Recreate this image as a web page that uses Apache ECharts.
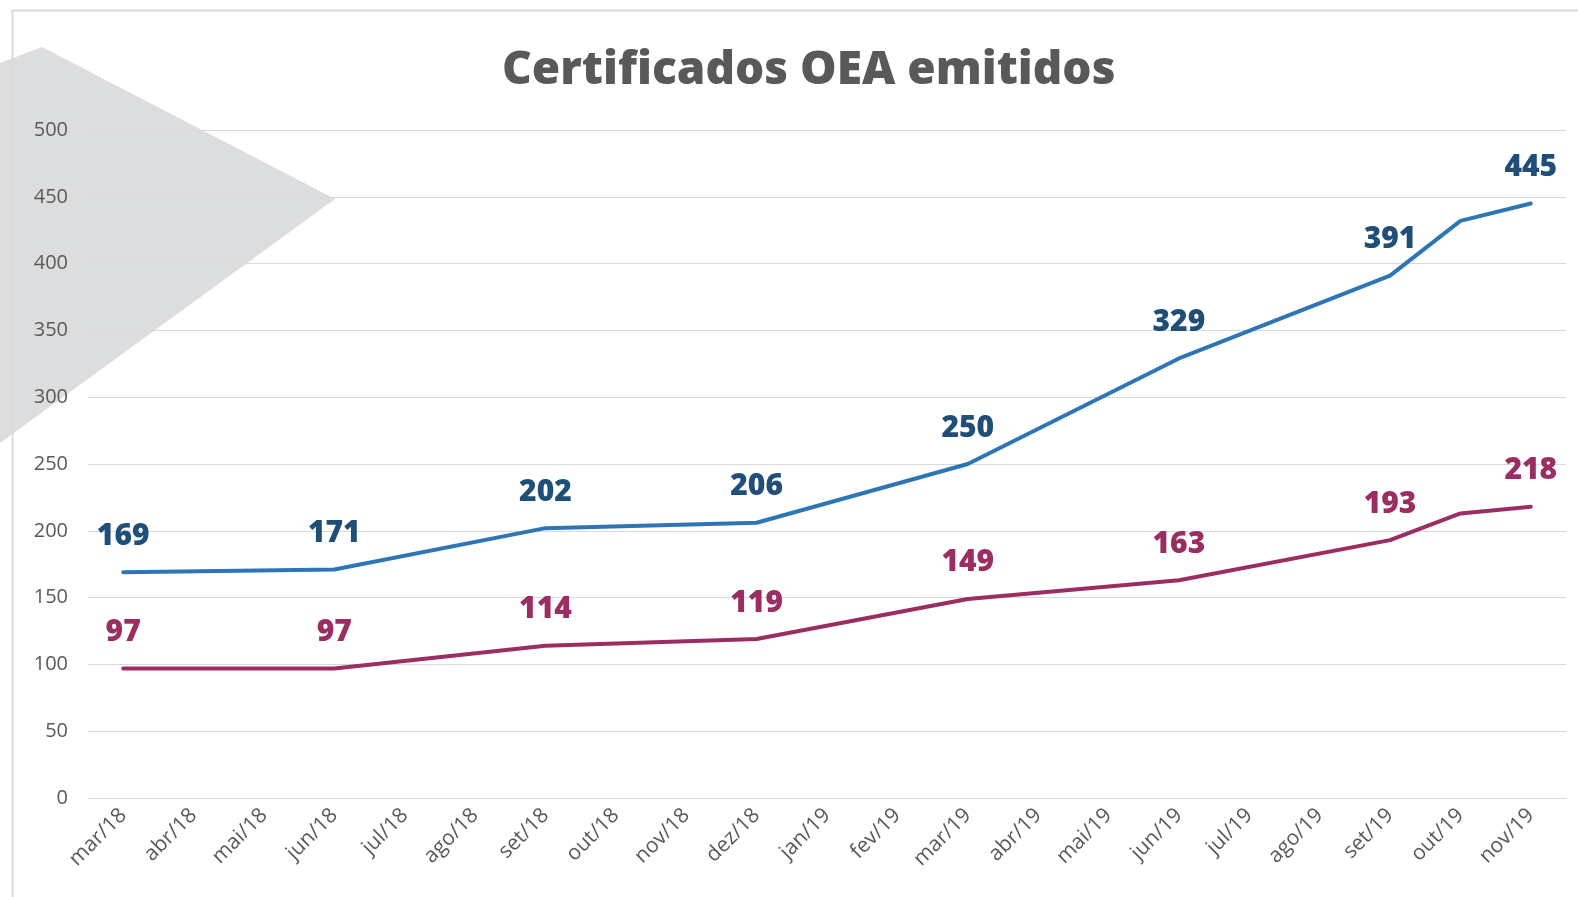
<!DOCTYPE html>
<html>
<head>
<meta charset="utf-8">
<script src="https://cdn.jsdelivr.net/npm/echarts@6/dist/echarts.min.js"></script>
<style>
  html, body { margin: 0; padding: 0; background: #fff; }
  #main { width: 1578px; height: 897px; }
</style>
</head>
<body>
<div id="main"></div>
<script>
// meses (mar/18 .. nov/19)
var months = ["mar/18", "abr/18", "mai/18", "jun/18", "jul/18", "ago/18", "set/18", "out/18", "nov/18",
  "dez/18", "jan/19", "fev/19", "mar/19", "abr/19", "mai/19", "jun/19", "jul/19", "ago/19", "set/19",
  "out/19", "nov/19"];
// só há valor nos trimestres (e out/19); o resto fica null
var blueValues = [169, null, null, 171, null, null, 202, null, null, 206, null, null, 250, null, null,
  329, null, null, 391, 432, 445];
var redValues = [97, null, null, 97, null, null, 114, null, null, 119, null, null, 149, null, null,
  163, null, null, 193, 213, 218];
// pontos sem rótulo
var noLabel = ["out/19"];
var yTicks = [0, 50, 100, 150, 200, 250, 300, 350, 400, 450, 500];

var myChart = echarts.init(document.getElementById("main"));

function labelFmt(p) {
  if (noLabel.indexOf(p.name) >= 0) return "";
  return p.value;
}

var option = {
  animation: false,
  title: {
    text: "Certificados OEA emitidos",
    left: 497,
    top: 43,
    textStyle: {
      fontFamily: "Open Sans",
      fontWeight: 800,
      fontSize: 46,
      color: "#595959"
    }
  },
  graphic: [
    {
      type: "polygon",
      z: -10,
      shape: { points: [[0, 63], [42, 47], [335, 199], [0, 443]] },
      style: { fill: "#dcdddf" }
    },
    {
      type: "rect",
      z: -5,
      shape: { x: 12.5, y: 10.5, width: 1600, height: 1000 },
      style: { fill: "none", stroke: "#d9d9d9", lineWidth: 2 }
    }
  ],
  grid: {
    left: 88,
    right: 12,
    top: 130,
    bottom: 99
  },
  xAxis: {
    type: "category",
    data: months,
    boundaryGap: true,
    axisLine: { show: true, lineStyle: { color: "#d9d9d9", width: 1 } },
    axisTick: { show: false },
    axisLabel: {
      rotate: 45,
      margin: 14,
      fontFamily: "Open Sans",
      fontSize: 21,
      color: "#595959",
      interval: 0
    }
  },
  yAxis: {
    type: "value",
    min: yTicks[0],
    max: yTicks[yTicks.length - 1],
    interval: 50,
    axisLine: { show: false },
    axisTick: { show: false },
    splitLine: { lineStyle: { color: "#d9d9d9", width: 1 } },
    axisLabel: {
      margin: 20,
      fontFamily: "Open Sans",
      fontSize: 20,
      color: "#595959"
    }
  },
  series: [
    {
      name: "blue",
      type: "line",
      data: blueValues,
      connectNulls: true,
      symbol: "circle",
      symbolSize: 0,
      lineStyle: { color: "#2e75b6", width: 4, cap: "round", join: "round" },
      itemStyle: { color: "#2e75b6" },
      label: {
        show: true,
        position: "top",
        distance: 21,
        formatter: labelFmt,
        fontFamily: "Open Sans",
        fontWeight: 800,
        fontSize: 30,
        color: "#1f4e79"
      }
    },
    {
      name: "red",
      type: "line",
      data: redValues,
      connectNulls: true,
      symbol: "circle",
      symbolSize: 0,
      lineStyle: { color: "#9b2d62", width: 4, cap: "round", join: "round" },
      itemStyle: { color: "#9b2d62" },
      label: {
        show: true,
        position: "top",
        distance: 21,
        formatter: labelFmt,
        fontFamily: "Open Sans",
        fontWeight: 800,
        fontSize: 30,
        color: "#9b2d62"
      }
    }
  ]
};
myChart.setOption(option);
</script>
</body>
</html>
